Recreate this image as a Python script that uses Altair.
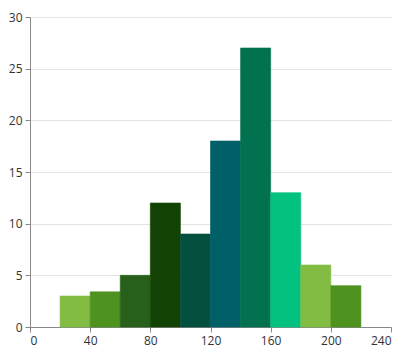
import altair as alt
import pandas as pd

bin_start = [20, 40, 60, 80, 100, 120, 140, 160, 180, 200]
bin_end = [40, 60, 80, 100, 120, 140, 160, 180, 200, 220]
counts = [3, 3.4, 5, 12, 9, 18, 27, 13, 6, 4]
colors = ["#82bc43", "#4e9220", "#26601a", "#134304", "#044f3e",
          "#005f67", "#02714f", "#03c27f", "#82bc43", "#4e9220"]

df = pd.DataFrame({
    "start": bin_start,
    "end": bin_end,
    "count": counts,
    "idx": [str(i) for i in range(len(counts))],
})

cscale = alt.Scale(domain=df["idx"].tolist(), range=colors)

chart = alt.Chart(df).mark_rect(strokeWidth=0.6).encode(
    x=alt.X("start:Q", title=None,
            scale=alt.Scale(domain=[0, 240], nice=False),
            axis=alt.Axis(values=[0, 40, 80, 120, 160, 200, 240], grid=False)),
    x2="end:Q",
    y=alt.Y("count:Q", title=None,
            scale=alt.Scale(domain=[0, 30], nice=False),
            axis=alt.Axis(values=[0, 5, 10, 15, 20, 25, 30], grid=True)),
    y2=alt.datum(0),
    color=alt.Color("idx:N", scale=cscale, legend=None),
    stroke=alt.Stroke("idx:N", scale=cscale, legend=None),
).properties(
    width=361, height=310, padding={"left": 0, "top": 3, "right": 2, "bottom": 6}
).configure_view(stroke=None).configure_axis(
    domainColor="#888888", tickColor="#888888", gridColor="#e3e3e3",
    labelColor="#333333", labelFont="Open Sans", labelFontSize=12,
    tickSize=5, labelPadding=3,
)

chart.save("out.html", embed_options={"renderer": "svg", "actions": False})
